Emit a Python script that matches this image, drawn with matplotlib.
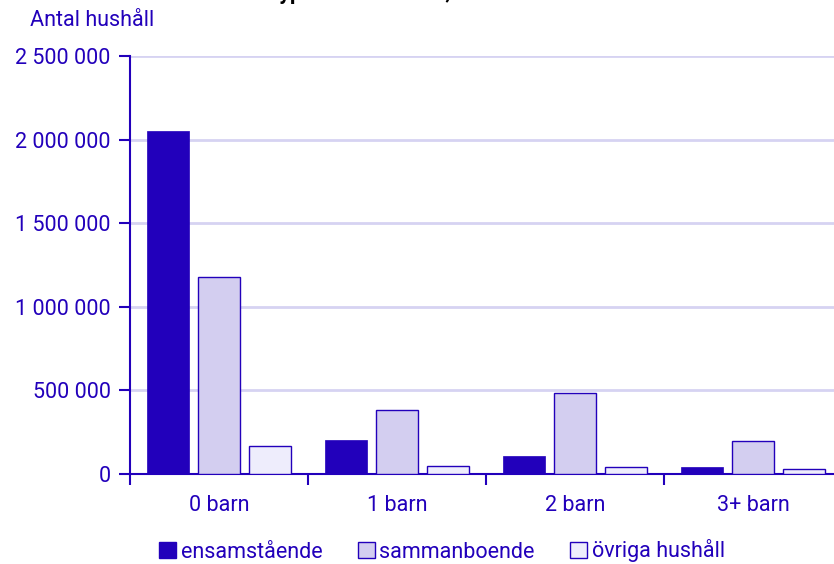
import matplotlib
matplotlib.use("Agg")
import matplotlib.pyplot as plt
import numpy as np
from matplotlib.patches import Patch
from matplotlib.ticker import FuncFormatter

categories = ["0 barn", "1 barn", "2 barn", "3+ barn"]
series_names = ["ensamstående", "sammanboende", "övriga hushåll"]
ensamstaende = [2050000, 203000, 108000, 39000]
sammanboende = [1178000, 383000, 484000, 197000]
ovriga = [167000, 48000, 43000, 30000]
yticks = [0, 500000, 1000000, 1500000, 2000000, 2500000]

plt.rcParams['font.family'] = ['Roboto', 'DejaVu Sans']
DARK = "#2200BB"
LIGHT = "#D3CEF0"
PALE = "#EEEDFC"
GRID = "#D6D3F2"
FS = 15.5

fig = plt.figure(figsize=(8.34, 5.64), dpi=100)
W, H = 834, 564
ax = fig.add_axes([130 / W, 1 - 474 / H, 712 / W, 418 / H])

x = np.arange(len(categories))
bw = 0.236
off = 0.287
colors = [DARK, LIGHT, PALE]
for i, (vals, c) in enumerate(zip([ensamstaende, sammanboende, ovriga], colors)):
    ax.bar(x + (i - 1) * off, vals, width=bw, color=c, edgecolor=DARK,
           linewidth=1.0 if i > 0 else 0.5, zorder=3)

ax.set_xlim(-0.5, 3.5)
ax.set_ylim(0, 2500000)
ax.set_yticks(yticks)
ax.yaxis.set_major_formatter(FuncFormatter(lambda v, p: f"{int(v):,}".replace(",", " ")))
ax.grid(axis='y', color=GRID, linewidth=2, zorder=0)
ax.set_axisbelow(True)

ax.set_xticks(x)
ax.set_xticklabels(categories)
ax.set_xticks(np.arange(0, 4) - 0.5, minor=True)
ax.tick_params(axis='x', which='major', length=0, pad=15, labelsize=FS, labelcolor=DARK)
ax.tick_params(axis='x', which='minor', length=8, width=1.5, color=DARK, direction='out')
ax.tick_params(axis='y', length=8, width=1.5, color=DARK, labelsize=FS, labelcolor=DARK, pad=6)

for s in ['top', 'right']:
    ax.spines[s].set_visible(False)
for s in ['left', 'bottom']:
    ax.spines[s].set_color(DARK)
    ax.spines[s].set_linewidth(1.5)

fig.text(30 / W, 1 - 21 / H, "Antal hushåll", color=DARK, fontsize=FS, va='center', ha='left')
fig.text(60 / W, 1.0 + 1 / H, "Hushåll efter hushållstyp och antal barn, 2023",
         color="black", fontsize=FS, fontweight='bold', va='baseline', ha='left')

handles = [Patch(facecolor=c, edgecolor=DARK, linewidth=1) for c in colors]
fig.legend(handles, series_names, loc='center', bbox_to_anchor=(442 / W, 1 - 551 / H),
           ncol=3, frameon=False, fontsize=FS, handlelength=0.8, handleheight=0.8,
           handletextpad=0.2, columnspacing=1.65, labelcolor=DARK, borderpad=0.2)

fig.savefig("out.png", dpi=100)
